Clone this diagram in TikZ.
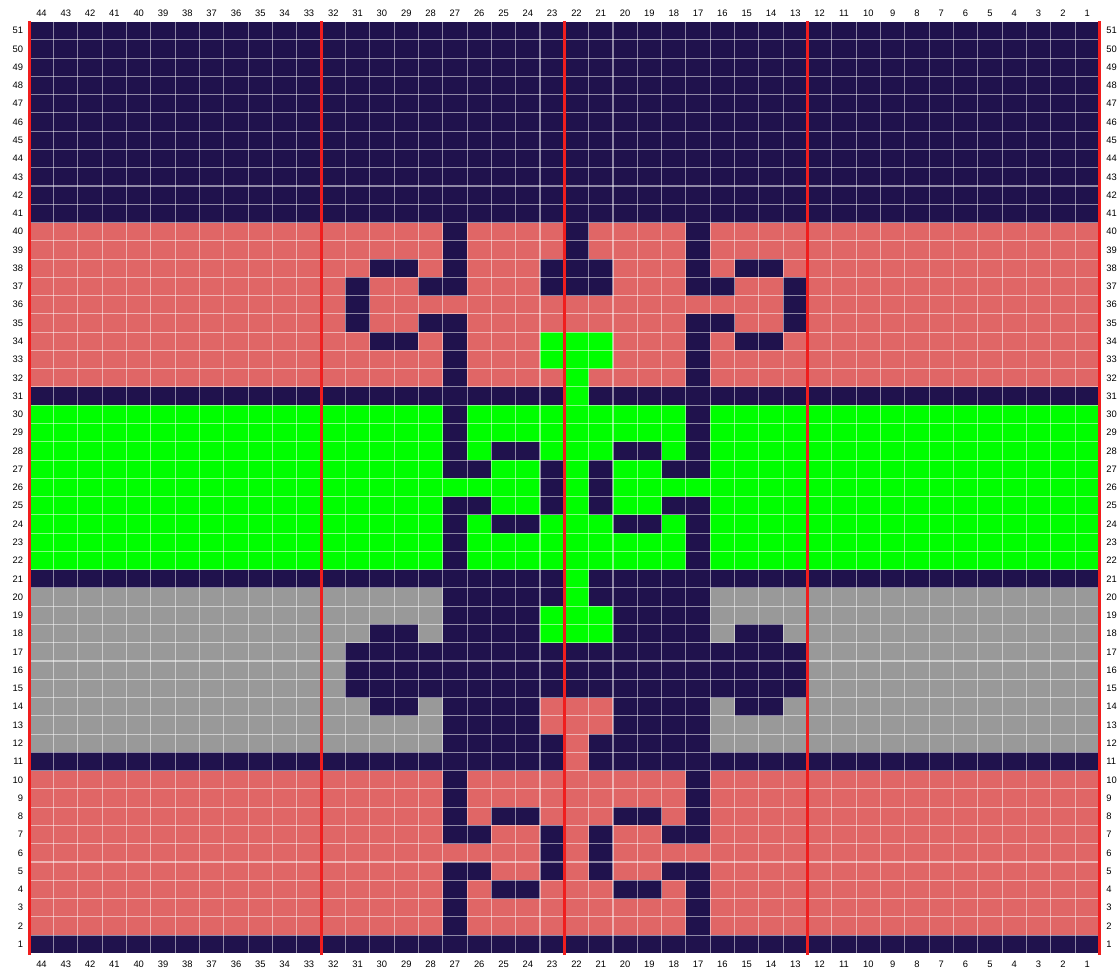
\documentclass[tikz,border=0pt]{standalone}
\usepackage{fontspec}
\setmainfont{Liberation Sans}
\usepackage{tikz}
\definecolor{chNavy}{HTML}{20124D}
\definecolor{chCoral}{HTML}{E06666}
\definecolor{chGreen}{HTML}{00FF00}
\definecolor{chGrey}{HTML}{999999}
\definecolor{chRed}{HTML}{F01E1E}
\newcommand\stitch[3]{\fill[#1] (#2-1,#3-1) rectangle ++(1,1);}

\begin{document}
\begin{tikzpicture}[
  x=0.03cm, y=-0.03cm,
  gridline/.style={draw=white, draw opacity=0.5, line width=0.9pt},
  repeatline/.style={draw=chRed, line width=2.4pt},
  num/.style={font=\fontsize{8}{9.6}\selectfont, inner sep=0pt}
]
  \useasboundingbox (0,0) rectangle (1120,974);
  \fill[white] (0,0) rectangle (1120,974);

  \begin{scope}[shift={(32.979cm,-28.599cm)}, x=-0.72954cm, y=0.5481cm]
    % colour bands
    \fill[chNavy]  (0,0)  rectangle (44,51);
    \fill[chCoral] (0,31) rectangle (44,40);
    \fill[chGreen] (0,21) rectangle (44,30);
    \fill[chGrey]  (0,11) rectangle (44,20);
    \fill[chCoral] (0,1)  rectangle (44,10);

    % top motif
    \foreach \c in {27,17}
      \foreach \r in {32,33,34,35,37,38,39,40} {\stitch{chNavy}{\c}{\r}}
    \foreach \r in {37,38,39,40} {\stitch{chNavy}{22}{\r}}
    \foreach \c in {23,21}
      \foreach \r in {37,38} {\stitch{chNavy}{\c}{\r}}
    \foreach \c in {31,13}
      \foreach \r in {35,36,37} {\stitch{chNavy}{\c}{\r}}
    \foreach \c in {30,29,15,14}
      \foreach \r in {34,38} {\stitch{chNavy}{\c}{\r}}
    \foreach \c in {28,16}
      \foreach \r in {35,37} {\stitch{chNavy}{\c}{\r}}
    \foreach \c in {23,21}
      \foreach \r in {33,34} {\stitch{chGreen}{\c}{\r}}

    % repeated motif, green and lower coral bands
    \foreach \b in {22,2} {
      \foreach \c in {27,17}
        \foreach \d in {0,1,2,3,5,6,7,8} {\stitch{chNavy}{\c}{\b+\d}}
      \foreach \c in {26,18}
        \foreach \d in {3,5} {\stitch{chNavy}{\c}{\b+\d}}
      \foreach \c in {25,24,20,19}
        \foreach \d in {2,6} {\stitch{chNavy}{\c}{\b+\d}}
      \foreach \c in {23,21}
        \foreach \d in {3,4,5} {\stitch{chNavy}{\c}{\b+\d}}
    }

    % grey band motif
    \fill[chNavy] (16,11) rectangle (27,20);
    \fill[chNavy] (27,14) rectangle (31,17);
    \fill[chNavy] (12,14) rectangle (16,17);
    \foreach \c in {30,29,15,14}
      \foreach \r in {14,18} {\stitch{chNavy}{\c}{\r}}
    \foreach \c in {23,21}
      \foreach \r in {18,19} {\stitch{chGreen}{\c}{\r}}
    \foreach \c in {23,21}
      \foreach \r in {13,14} {\stitch{chCoral}{\c}{\r}}

    % centre column
    \fill[chGreen] (21,17) rectangle (22,34);
    \fill[chCoral] (21,10) rectangle (22,14);

    % grid
    \foreach \x in {0,...,44} {\draw[gridline] (\x,0) -- (\x,51);}
    \foreach \y in {0,...,51} {\draw[gridline] (0,\y) -- (44,\y);}
    \foreach \x in {0,12,22,32,44} {\draw[repeatline] (\x,-0.1) -- (\x,51.03);}

    % numbering
    \foreach \c in {1,...,44} {
      \node[num] (top\c) at (\c-0.5,51.44) {\c};
      \node[num] (bot\c) at (\c-0.5,-0.61) {\c};
    }
    \foreach \r in {1,...,51} {
      \node[num, anchor=east] (left\r) at (44.25,\r-0.5) {\r};
      \node[num, anchor=west] (right\r) at (-0.28,\r-0.5) {\r};
    }
  \end{scope}
\end{tikzpicture}
\end{document}
